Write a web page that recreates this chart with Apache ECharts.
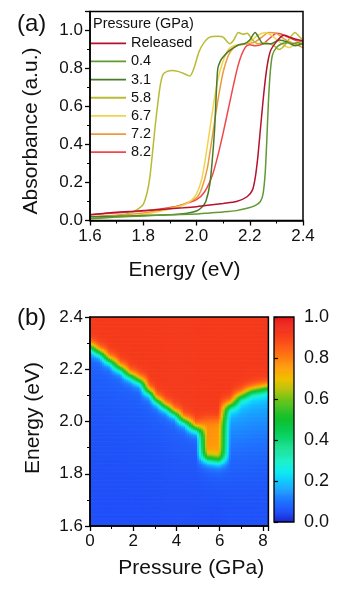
<!DOCTYPE html>
<html><head><meta charset="utf-8">
<script src="https://cdn.jsdelivr.net/npm/echarts@6/dist/echarts.min.js"></script>
<style>html,body{margin:0;padding:0;background:#fff}#c{width:349px;height:590px}</style>
</head><body><div id="c"></div>
<script>
// ---------- Panel (a): absorption spectra, [energy eV, absorbance] ----------
const seriesNames = ['Released', '0.4', '3.1', '5.8', '6.7', '7.2', '8.2'];
const seriesColors = ['#b4122e', '#5f9a32', '#4a7b2b', '#b8bc34', '#f2d34c', '#ec9a3c', '#f0484a'];
const specReleased = [[1.60,0.030],[1.65,0.037],[1.70,0.044],[1.75,0.047],[1.80,0.052],[1.85,0.056],[1.90,0.062],[1.95,0.067],[2.00,0.073],[2.05,0.081],[2.10,0.090],[2.15,0.100],[2.19,0.125],[2.21,0.160],[2.22,0.22],[2.23,0.33],[2.24,0.48],[2.25,0.63],[2.26,0.76],[2.27,0.85],[2.28,0.90],[2.30,0.94],[2.32,0.97],[2.33,0.975],[2.35,0.965],[2.37,0.955],[2.40,0.945]];
const spec04 = [[1.60,0.010],[1.65,0.015],[1.70,0.018],[1.80,0.024],[1.90,0.030],[2.00,0.034],[2.05,0.040],[2.10,0.045],[2.15,0.052],[2.19,0.064],[2.22,0.078],[2.24,0.10],[2.25,0.14],[2.258,0.25],[2.264,0.42],[2.27,0.62],[2.277,0.78],[2.285,0.87],[2.30,0.91],[2.32,0.93],[2.34,0.935],[2.36,0.93],[2.38,0.935],[2.40,0.925]];
const spec31 = [[1.60,0.020],[1.70,0.022],[1.80,0.026],[1.90,0.030],[1.95,0.035],[2.00,0.050],[2.02,0.070],[2.035,0.10],[2.05,0.19],[2.06,0.33],[2.068,0.48],[2.074,0.66],[2.08,0.80],[2.09,0.84],[2.10,0.86],[2.12,0.89],[2.14,0.91],[2.16,0.925],[2.18,0.93],[2.20,0.95],[2.22,0.99],[2.235,0.96],[2.25,0.93],[2.28,0.93],[2.31,0.95],[2.34,0.94],[2.37,0.92],[2.40,0.93]];
const spec58 = [[1.60,0.010],[1.65,0.015],[1.70,0.022],[1.75,0.040],[1.78,0.060],[1.80,0.085],[1.815,0.15],[1.825,0.23],[1.835,0.36],[1.845,0.50],[1.855,0.62],[1.865,0.72],[1.875,0.77],[1.89,0.785],[1.91,0.79],[1.93,0.785],[1.95,0.775],[1.965,0.765],[1.975,0.76],[1.99,0.80],[2.01,0.89],[2.03,0.94],[2.05,0.965],[2.08,0.97],[2.10,0.965],[2.125,0.93],[2.14,0.95],[2.157,0.99],[2.175,0.98],[2.19,0.985],[2.21,0.95],[2.23,0.93],[2.26,0.935],[2.29,0.92],[2.31,0.90],[2.33,0.92],[2.35,0.96],[2.37,0.99],[2.385,0.97],[2.40,0.95]];
const spec67 = [[1.60,0.010],[1.70,0.018],[1.80,0.032],[1.85,0.045],[1.90,0.060],[1.95,0.080],[1.98,0.105],[2.00,0.14],[2.02,0.22],[2.035,0.34],[2.05,0.48],[2.065,0.62],[2.08,0.74],[2.10,0.84],[2.12,0.90],[2.14,0.92],[2.17,0.925],[2.20,0.94],[2.23,0.975],[2.26,0.99],[2.29,0.965],[2.32,0.93],[2.35,0.91],[2.38,0.94],[2.40,0.93]];
const spec72 = [[1.60,0.020],[1.70,0.028],[1.80,0.040],[1.90,0.065],[1.95,0.085],[2.00,0.12],[2.02,0.17],[2.04,0.27],[2.055,0.40],[2.07,0.54],[2.085,0.67],[2.10,0.78],[2.12,0.87],[2.14,0.91],[2.16,0.925],[2.19,0.93],[2.22,0.94],[2.25,0.97],[2.27,0.99],[2.30,0.985],[2.33,0.955],[2.36,0.935],[2.40,0.91]];
const spec82 = [[1.60,0.030],[1.65,0.035],[1.70,0.040],[1.80,0.050],[1.90,0.068],[1.95,0.085],[2.00,0.11],[2.03,0.15],[2.06,0.24],[2.08,0.34],[2.10,0.46],[2.12,0.59],[2.14,0.72],[2.155,0.81],[2.17,0.875],[2.185,0.915],[2.20,0.925],[2.22,0.92],[2.25,0.93],[2.28,0.965],[2.30,0.985],[2.32,0.98],[2.35,0.96],[2.38,0.945],[2.40,0.935]];
const spectra = [specReleased, spec04, spec31, spec58, spec67, spec72, spec82];

const energyRange = [1.6, 2.4];
const absorbanceRange = [0, 1.1];
const pressureRange = [0, 8.25];
const colorbarRange = [0, 1];

// ---------- Panel (b): contour map, read per pressure column ----------
const colP     = [0,    0.45, 0.9,  1.4,  1.85, 2.3,  2.75, 3.1,  3.5,  3.9,  4.35, 4.9,  5.45, 5.95, 6.5,  7.0,  7.5,  8.25];
const colEdge  = [2.288,2.266,2.236,2.206,2.178,2.158,2.115,2.082,2.058,2.035,2.005,1.975,1.858,1.852,2.065,2.100,2.120,2.132];
const colLoTop = [0.085,0.085,0.085,0.085,0.085,0.085,0.085,0.085,0.085,0.085,0.085,0.085,0.09, 0.10, 0.20, 0.22, 0.22, 0.22];
const colLoBot = [0.05, 0.05, 0.05, 0.05, 0.05, 0.05, 0.05, 0.05, 0.05, 0.05, 0.05, 0.05, 0.05, 0.05, 0.055,0.055,0.055,0.055];
const colPlat  = [0.92, 0.92, 0.92, 0.92, 0.92, 0.92, 0.92, 0.92, 0.92, 0.92, 0.92, 0.92, 0.77, 0.76, 0.92, 0.92, 0.92, 0.92];
const topLevel = 0.92;
const plateauTop = 2.01;
const edgeWidth = 0.012;

const rainbow = ['#1c22c8','#2050f8','#2070ff','#1a98ff','#10c8ff','#10ecf0','#20f0c8','#18e49c','#10d878','#08cc50','#10c030','#30c020','#70c418','#b8c410','#f0c000','#ffa008','#ff8010','#ff6018','#f8441c','#f02c1c','#e81818'];

// ---- build the cell table from the column readings ----
function logistic(x){ return 1/(1+Math.exp(-x)); }
function colValue(k, E){
  const e = colEdge[k];
  const f = Math.max(0, Math.min(1, (E-1.6)/(e-1.6)));
  const lo = colLoBot[k] + (colLoTop[k]-colLoBot[k]) * Math.pow(f, 2.5);
  const hi = colPlat[k] + (topLevel-colPlat[k]) * logistic((E-plateauTop)/0.012);
  return lo + (hi-lo) * logistic((E-e)/edgeWidth);
}
function fieldValue(P, E){
  let k = 0;
  while (k < colP.length-2 && P > colP[k+1]) k++;
  const t = Math.max(0, Math.min(1, (P-colP[k])/(colP[k+1]-colP[k])));
  return (1-t)*colValue(k, E) + t*colValue(k+1, E);
}
const nP = 90, nE = 160;
const heatCells = [];
for (let i=0;i<nP;i++){
  const p0 = pressureRange[0] + (pressureRange[1]-pressureRange[0])*i/nP;
  const p1 = pressureRange[0] + (pressureRange[1]-pressureRange[0])*(i+1)/nP;
  for (let j=0;j<nE;j++){
    const e0 = energyRange[0] + (energyRange[1]-energyRange[0])*j/nE;
    const e1 = energyRange[0] + (energyRange[1]-energyRange[0])*(j+1)/nE;
    heatCells.push([p0, e0, fieldValue((p0+p1)/2, (e0+e1)/2), p1, e1]);
  }
}
const barCells = [];
for (let j=0;j<200;j++){ const a=j/200, b=(j+1)/200; barCells.push([0, a, (a+b)/2, 1, b]); }

function cellRender(params, api){
  const a = api.coord([api.value(0), api.value(4)]);
  const b = api.coord([api.value(3), api.value(1)]);
  return {type:'rect', shape:{x:a[0], y:a[1], width:b[0]-a[0]+0.6, height:b[1]-a[1]+0.6}, style:{fill: api.visual('color')}};
}

const FONT = 'Liberation Sans, Arial, sans-serif';
const TXT = '#111';
function valAxisBase(extra){
  return Object.assign({
    type:'value', z:6,
    axisLine:{show:true, onZero:false, lineStyle:{color:'#000', width:1.5}},
    axisTick:{show:true, inside:false, length:5, lineStyle:{color:'#000', width:1.3}},
    minorTick:{show:true, splitNumber:2, length:3, lineStyle:{color:'#000', width:1}},
    splitLine:{show:false},
    axisLabel:{color:TXT, fontSize:17, fontFamily:FONT, margin:7},
    nameTextStyle:{color:TXT, fontSize:21, fontFamily:FONT}
  }, extra);
}
function fmt1(step){ return function(v){ const r=Math.round(v/step)*step; return Math.abs(r-v)<1e-6 ? v.toFixed(1) : ''; }; }
function fmt0(step){ return function(v){ const r=Math.round(v/step)*step; return Math.abs(r-v)<1e-6 ? String(Math.round(v)) : ''; }; }

const lineSeries = spectra.map((d, i) => ({
  type:'line', name: seriesNames[i], xAxisIndex:0, yAxisIndex:0, data:d,
  showSymbol:false, symbol:'none', smooth:0.25, clip:true,
  lineStyle:{color: seriesColors[i], width:1.5}, itemStyle:{color: seriesColors[i]},
  z: 3 + (seriesNames.length - i)*0.01
}));

const option = {
  animation:false,
  grid:[
    {left:90, top:11.5, width:213, height:209, show:true, borderColor:'#000', borderWidth:1.5, z:5, backgroundColor:'transparent'},
    {left:90, top:317, width:178.4, height:209, show:true, borderColor:'#000', borderWidth:1.5, z:5, backgroundColor:'transparent'},
    {left:274, top:317, width:20, height:205, show:true, borderColor:'#000', borderWidth:1.3, z:5, backgroundColor:'transparent'}
  ],
  xAxis:[
    valAxisBase({gridIndex:0, min:energyRange[0], max:energyRange[1], interval:0.2,
      axisLabel:{color:TXT, fontSize:17, fontFamily:FONT, margin:7, formatter:fmt1(0.2)},
      name:'Energy (eV)', nameLocation:'middle', nameGap:39,
      nameTextStyle:{color:TXT, fontSize:21, fontFamily:FONT, padding:[0,24,0,0]}}),
    valAxisBase({gridIndex:1, min:pressureRange[0], max:pressureRange[1], interval:2,
      axisLabel:{color:TXT, fontSize:17, fontFamily:FONT, margin:7, formatter:fmt0(2)},
      name:'Pressure (GPa)', nameLocation:'middle', nameGap:32,
      nameTextStyle:{color:TXT, fontSize:21, fontFamily:FONT, padding:[0,0,0,24]}}),
    {type:'value', gridIndex:2, min:0, max:1, show:false}
  ],
  yAxis:[
    valAxisBase({gridIndex:0, min:absorbanceRange[0], max:absorbanceRange[1], interval:0.2,
      axisLabel:{color:TXT, fontSize:17, fontFamily:FONT, margin:7, formatter:fmt1(0.2)},
      name:'Absorbance (a.u.)', nameLocation:'middle', nameGap:48,
      nameTextStyle:{color:TXT, fontSize:21, fontFamily:FONT, padding:[0,30,0,0]}}),
    valAxisBase({gridIndex:1, min:energyRange[0], max:energyRange[1], interval:0.2,
      axisLabel:{color:TXT, fontSize:17, fontFamily:FONT, margin:7, formatter:fmt1(0.2)},
      name:'Energy (eV)', nameLocation:'middle', nameGap:46,
      nameTextStyle:{color:TXT, fontSize:21, fontFamily:FONT, padding:[0,0,0,7]}}),
    valAxisBase({gridIndex:2, min:colorbarRange[0], max:colorbarRange[1], interval:0.2, position:'right',
      axisLine:{show:false},
      axisTick:{show:true, inside:false, length:4, lineStyle:{color:'#000', width:1.2}},
      minorTick:{show:false},
      axisLabel:{color:TXT, fontSize:18, fontFamily:FONT, margin:10, formatter:fmt1(0.2)}})
  ],
  visualMap:{type:'continuous', show:false, min:0, max:1, dimension:2, seriesIndex:[7,8], inRange:{color:rainbow}},
  legend:{
    orient:'vertical', left:90, top:34.3, padding:0, itemGap:0.15,
    icon:'rect', itemWidth:36, itemHeight:1.8,
    textStyle:{color:TXT, fontSize:14.5, fontFamily:FONT, lineHeight:18},
    data: seriesNames
  },
  graphic:[
    {type:'text', x:17, y:24, style:{text:'(a)', font:'24px '+FONT, fill:TXT, verticalAlign:'middle'}},
    {type:'text', x:17, y:318, style:{text:'(b)', font:'24px '+FONT, fill:TXT, verticalAlign:'middle'}},
    {type:'text', x:93, y:24, style:{text:'Pressure (GPa)', font:'14.5px '+FONT, fill:TXT, verticalAlign:'middle'}}
  ],
  series: lineSeries.concat([
    {type:'custom', name:'map', xAxisIndex:1, yAxisIndex:1, data:heatCells, encode:{x:0, y:1},
     renderItem:cellRender, clip:true, progressive:0, silent:true, z:2},
    {type:'custom', name:'bar', xAxisIndex:2, yAxisIndex:2, data:barCells, encode:{x:0, y:1},
     renderItem:cellRender, clip:true, progressive:0, silent:true, z:2}
  ])
};
const chart = echarts.init(document.getElementById('c'), null, {renderer:'canvas'});
chart.setOption(option);
</script></body></html>
